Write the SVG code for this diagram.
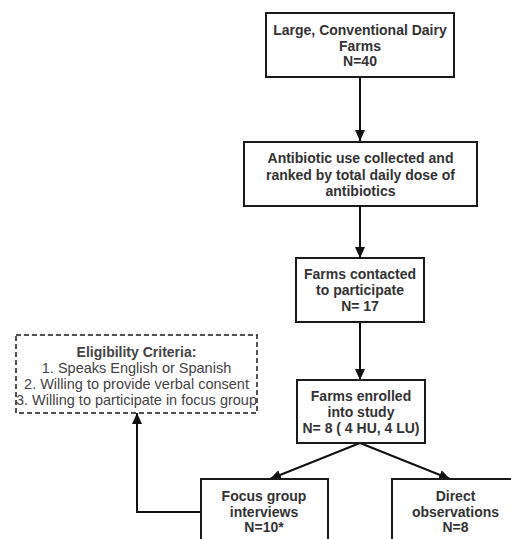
<svg xmlns="http://www.w3.org/2000/svg" width="511" height="539" viewBox="0 0 511 539">
<style>
.box{fill:#fff;stroke:#1a1a1a;stroke-width:2}
.dash{fill:#fff;stroke:#1a1a1a;stroke-width:1.5;stroke-dasharray:5,3}
.t{font-family:"Liberation Sans",Arial,sans-serif;font-size:14px;font-weight:bold;fill:#333;text-anchor:middle}
.r{font-family:"Liberation Sans",Arial,sans-serif;font-size:14.5px;fill:#444;text-anchor:middle}
.c{fill:none;stroke:#111;stroke-width:2;marker-end:url(#ah)}
</style>
<defs>
<marker id="ah" markerUnits="userSpaceOnUse" markerWidth="12" markerHeight="12" viewBox="0 0 12 12" refX="11" refY="6" orient="auto">
<path d="M0,1 L11,6 L0,11 Z" fill="#111"/>
</marker>
</defs>
<rect width="511" height="539" fill="#fff"/>
<g id="connectors">
<path class="c" d="M360,77 L360,141"/>
<path class="c" d="M360,206 L360,258"/>
<path class="c" d="M360,322 L360,380"/>
<path class="c" d="M360,443 L270,479"/>
<path class="c" d="M360,443 L450,479"/>
<path class="c" d="M201,512 L137,512 L137,413"/>
</g>
<g id="n1">
<rect class="box" x="266" y="13" width="188" height="64"/>
<text class="t" x="360" y="35">Large, Conventional Dairy</text>
<text class="t" x="360" y="50.5">Farms</text>
<text class="t" x="360" y="66">N=40</text>
</g>
<g id="n2">
<rect class="box" x="244" y="142" width="233" height="64"/>
<text class="t" x="360.5" y="163">Antibiotic use collected and</text>
<text class="t" x="360.5" y="179.5">ranked by total daily dose of</text>
<text class="t" x="360.5" y="196">antibiotics</text>
</g>
<g id="n3">
<rect class="box" x="296" y="258" width="128" height="64"/>
<text class="t" x="360" y="279">Farms contacted</text>
<text class="t" x="360" y="295">to participate</text>
<text class="t" x="360" y="311">N= 17</text>
</g>
<g id="n4">
<rect class="box" x="297" y="380" width="128" height="63"/>
<text class="t" x="361" y="401">Farms enrolled</text>
<text class="t" x="361" y="417">into study</text>
<text class="t" x="361" y="433">N= 8 ( 4 HU, 4 LU)</text>
</g>
<g id="n5">
<rect class="box" x="201" y="479" width="127" height="70"/>
<text class="t" x="264" y="501">Focus group</text>
<text class="t" x="264" y="517">interviews</text>
<text class="t" x="264" y="532">N=10*</text>
</g>
<g id="n6">
<rect class="box" x="392" y="479" width="127" height="70"/>
<text class="t" x="455.5" y="501">Direct</text>
<text class="t" x="455.5" y="517">observations</text>
<text class="t" x="455.5" y="532">N=8</text>
</g>
<g id="n7">
<rect class="dash" x="16" y="335" width="241" height="78"/>
<text class="t" x="136.5" y="357" style="fill:#444">Eligibility Criteria:</text>
<text class="r" x="136.5" y="373">1. Speaks English or Spanish</text>
<text class="r" x="136.5" y="389">2. Willing to provide verbal consent</text>
<text class="r" x="136.5" y="405">3. Willing to participate in focus group</text>
</g>
</svg>
